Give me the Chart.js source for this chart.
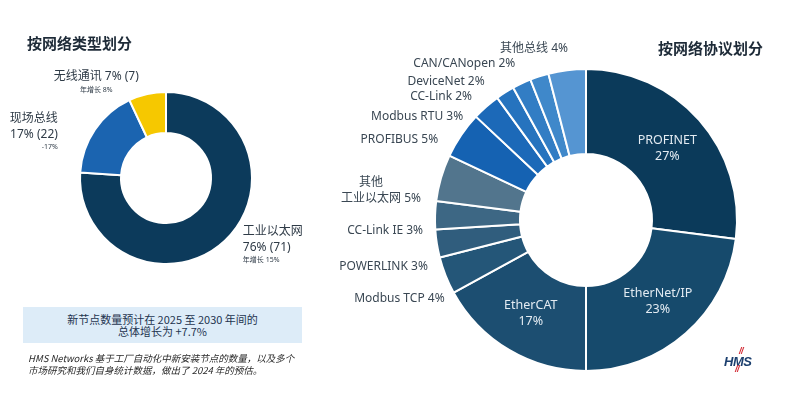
<!DOCTYPE html>
<html lang="zh">
<head>
  <meta charset="UTF-8">
  <title>按网络类型 / 协议划分</title>
  <script src="https://cdn.jsdelivr.net/npm/chart.js"></script>
  <style>
    body {
      margin: 0;
      background: #fff;
      font-family: "Noto Sans", "Noto Sans CJK SC", sans-serif;
    }
    .page {
      position: relative;
      width: 802px;
      height: 397px;
      overflow: hidden;
    }
    .page canvas {
      position: absolute;
      left: 0;
      top: 0;
    }
    .title {
      position: absolute;
      margin: 0;
      font-size: 15px;
      line-height: 20px;
      font-weight: 700;
      color: #1e2b38;
      font-family: "Noto Sans CJK SC", sans-serif;
    }
    .note {
      position: absolute;
      left: 23px;
      top: 307px;
      width: 279px;
      height: 36px;
      background: #ddecf8;
      color: #1f3550;
      font-size: 11px;
      line-height: 12px;
      text-align: center;
      display: flex;
      flex-direction: column;
      justify-content: center;
      font-family: "Noto Sans CJK SC", sans-serif;
    }
    .foot {
      position: absolute;
      left: 28px;
      top: 352px;
      font-size: 9.5px;
      line-height: 12px;
      font-style: italic;
      color: #2a2a2a;
      font-family: "Noto Sans CJK SC", sans-serif;
    }
    .logo {
      position: absolute;
      left: 722px;
      top: 349px;
      width: 40px;
      height: 26px;
      font: italic 800 13px "Liberation Sans", sans-serif;
      color: #1b3f6e;
      letter-spacing: -0.5px;
    }
    .logo .word { position: absolute; left: 2px; top: 5px; }
    .logo .sl { position: absolute; color: #d22630; font-size: 9px; font-weight: 800; }
  </style>
</head>
<body>
  <div class="page">
    <canvas id="typeChart" width="802" height="397"></canvas>
    <canvas id="protocolChart" width="802" height="397"></canvas>

    <h2 class="title" style="left:27px; top:33px;">按网络类型划分</h2>
    <h2 class="title" style="left:658px; top:38px;">按网络协议划分</h2>

    <div class="note">
      <div>新节点数量预计在 2025 至 2030 年间的</div>
      <div>总体增长为 +7.7%</div>
    </div>
    <div class="foot">
      HMS Networks 基于工厂自动化中新安装节点的数量，以及多个<br>
      市场研究和我们自身统计数据，做出了 2024 年的预估。
    </div>
    <div class="logo">
      <span class="sl" style="left:17px; top:-3px;">//</span>
      <span class="word">HMS</span>
      <span class="sl" style="left:13px; top:15px;">//</span>
    </div>
  </div>

  <script>
    // network type (left)
    const typeNames = ['工业以太网', '现场总线', '无线通讯'];
    const typeShares = [76, 17, 7];
    const typeNodes = [71, 22, 7];
    const typeGrowth = ['年增长 15%', '-17%', '年增长 8%'];

    // network protocol (right), clockwise from top
    const protocolNames = ['PROFINET', 'EtherNet/IP', 'EtherCAT', 'Modbus TCP', 'POWERLINK',
      'CC-Link IE', '其他\n工业以太网', 'PROFIBUS', 'Modbus RTU', 'CC-Link', 'DeviceNet',
      'CAN/CANopen', '其他总线'];
    const protocolShares = [27, 23, 17, 4, 3, 3, 5, 5, 3, 2, 2, 2, 4];

    const typeColors = ['#0c3a5b', '#1b64b0', '#f6c800'];
    const protocolColors = ['#0b3a5a', '#164a6c', '#1c4e71', '#245678', '#305d7d', '#3d6784',
      '#52758d', '#1562b2', '#1c69b8', '#2673be', '#327dc4', '#3f88ca', '#5595d2'];

    const FONT = '"Noto Sans", "Noto Sans CJK SC", sans-serif';

    // draws labels next to / inside each arc
    const sliceLabels = {
      id: 'sliceLabels',
      afterDatasetsDraw(chart, args, opts) {
        const ctx = chart.ctx;
        const arcs = chart.getDatasetMeta(0).data;
        ctx.save();
        ctx.textBaseline = 'middle';
        arcs.forEach((arc, i) => {
          const item = opts.items[i];
          if (!item) return;
          let ax, ay;
          if (item.inside) {
            const p = arc.tooltipPosition(true);
            ax = p.x; ay = p.y - (item.lines.length - 1) * 8;
          } else {
            const a = arc.getProps(['x', 'y', 'startAngle', 'endAngle', 'outerRadius'], true);
            const mid = (a.startAngle + a.endAngle) / 2;
            ax = a.x + Math.cos(mid) * a.outerRadius + item.dx;
            ay = a.y + Math.sin(mid) * a.outerRadius + item.dy;
          }
          item.lines.forEach(ln => {
            ctx.font = (ln.weight || 400) + ' ' + ln.size + 'px ' + FONT;
            ctx.fillStyle = ln.color || opts.color;
            ctx.textAlign = item.align;
            let x = ax;
            if (ln.overWidth) {
              // centre a leading line over the name part of the last line
              ctx.font = ln.size + 'px ' + FONT;
              const w = ctx.measureText(ln.overWidth.name).width;
              const full = ctx.measureText(ln.overWidth.full).width;
              ctx.textAlign = 'center';
              x = ax - full + w / 2;
            }
            ctx.fillText(ln.t, x, ay + ln.dy);
          });
        });
        ctx.restore();
      }
    };

    // left label layout
    const typeLayout = [
      { align: 'left', dx: 18, dy: -9, inline: false },
      { align: 'right', dx: -37, dy: -11, inline: false },
      { align: 'center', dx: -51, dy: -17, inline: true }
    ];
    const typeItems = typeNames.map((n, i) => {
      const L = typeLayout[i];
      const pct = typeShares[i] + '% (' + typeNodes[i] + ')';
      const lines = L.inline
        ? [{ t: n + ' ' + pct, size: 12, dy: 0 }, { t: typeGrowth[i], size: 7, dy: 13 }]
        : [{ t: n, size: 12, dy: 0 }, { t: pct, size: 12, dy: 16 }, { t: typeGrowth[i], size: 7, dy: 28 }];
      return { align: L.align, dx: L.dx, dy: L.dy, lines };
    });

    // right label layout: offsets from the outer edge at the slice middle
    const protocolLayout = [
      { inside: true }, { inside: true }, { inside: true },
      { dx: -1, dy: 23 }, { dx: -9, dy: 23 }, { dx: -12, dy: 15 }, { dx: -20, dy: 21 },
      { dx: -23, dy: 4 }, { dx: -23, dy: 10 }, { dx: -33, dy: 4 }, { dx: -37, dy: -2 },
      { dx: -24, dy: -13 }, { dx: 1, dy: -22 }
    ];
    const protocolItems = protocolNames.map((n, i) => {
      const L = protocolLayout[i];
      const parts = n.split('\n');
      if (L.inside) {
        return {
          inside: true, align: 'center',
          lines: [{ t: n, size: 12.5, dy: 0, color: '#e3ebf2' },
                  { t: protocolShares[i] + '%', size: 12.5, dy: 16, color: '#e3ebf2' }]
        };
      }
      const last = parts[parts.length - 1];
      const full = last + ' ' + protocolShares[i] + '%';
      const lines = parts.slice(0, -1).map((p, k) => ({
        t: p, size: 12, dy: -16 * (parts.length - 1 - k), overWidth: { name: last, full }
      }));
      lines.push({ t: full, size: 12, dy: 0 });
      return { align: 'right', dx: L.dx, dy: L.dy, lines };
    });

    new Chart(document.getElementById('typeChart'), {
      type: 'doughnut',
      data: {
        labels: typeNames,
        datasets: [{
          data: typeShares,
          backgroundColor: typeColors,
          borderColor: '#fff',
          borderWidth: 2
        }]
      },
      options: {
        responsive: false,
        animation: false,
        cutout: 45,
        layout: { padding: { left: 79, top: 91, right: 549, bottom: 132 } },
        plugins: {
          legend: { display: false },
          tooltip: { enabled: false },
          sliceLabels: { items: typeItems, color: '#2f3b47' }
        }
      },
      plugins: [sliceLabels]
    });

    new Chart(document.getElementById('protocolChart'), {
      type: 'doughnut',
      data: {
        labels: protocolNames,
        datasets: [{
          data: protocolShares,
          backgroundColor: protocolColors,
          borderColor: '#fff',
          borderWidth: 2
        }]
      },
      options: {
        responsive: false,
        animation: false,
        cutout: 66,
        layout: { padding: { left: 433, top: 68, right: 63, bottom: 25 } },
        plugins: {
          legend: { display: false },
          tooltip: { enabled: false },
          sliceLabels: { items: protocolItems, color: '#3a4753' }
        }
      },
      plugins: [sliceLabels]
    });
  </script>
</body>
</html>
